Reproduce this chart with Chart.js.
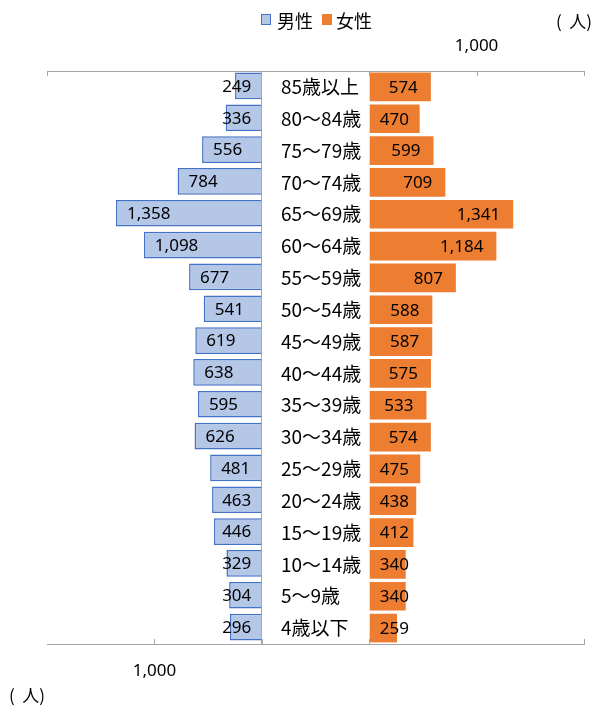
<!DOCTYPE html>
<html lang="ja">
<head>
<meta charset="utf-8">
<title>年齢別人口</title>
<script src="https://cdn.jsdelivr.net/npm/chart.js@4.4.1/dist/chart.umd.min.js"></script>
<style>
  body { margin: 0; background: #fff; }
  #wrap { position: relative; width: 603px; height: 705px; }
  #pyramid { position: absolute; left: 0; top: 0; }
  .lg-box { position: absolute; top: 14px; width: 8px; height: 9px; }
  .lg-box.male { left: 261px; background: #B4C7E7; border: 1px solid #4472C4; }
  .lg-box.female { left: 322px; width: 10px; height: 11px; background: #ED7D31; }
  .lg-text, .unit {
    position: absolute; color: #000; white-space: pre;
    font-family: "Noto Sans CJK JP", sans-serif;
  }
  .lg-text { top: 11px; font-size: 18px; line-height: 18px; }
  .unit { font-size: 17px; line-height: 17px; }
</style>
</head>
<body>
<div id="wrap">
  <canvas id="pyramid" width="603" height="705"></canvas>
  <span class="lg-box male"></span><span class="lg-text" style="left:277px">男性</span>
  <span class="lg-box female"></span><span class="lg-text" style="left:336px">女性</span>
  <span class="unit" style="left:556px; top:12px">(  人)</span>
  <span class="unit" style="left:9px; top:686px">(  人)</span>
</div>
<script>
// 年齢階級（上から）
const ageGroups = ['85歳以上', '80～84歳', '75～79歳', '70～74歳', '65～69歳', '60～64歳',
  '55～59歳', '50～54歳', '45～49歳', '40～44歳', '35～39歳', '30～34歳',
  '25～29歳', '20～24歳', '15～19歳', '10～14歳', '5～9歳', '4歳以下'];
const maleValues = [249, 336, 556, 784, 1358, 1098, 677, 541, 619, 638, 595, 626, 481, 463, 446, 329, 304, 296];
const femaleValues = [574, 470, 599, 709, 1341, 1184, 807, 588, 587, 575, 533, 574, 475, 438, 412, 340, 340, 259];

// 軸の範囲と目盛
const axisMin = -3000;
const axisMax = 2000;
const axisStep = 1000;
const labelledTicks = [1000];
const maleTickMarks = [1000, 0, -1000, -3000];
const femaleTickMarks = [-3000, 0, 1000, 2000];

const AXIS_GRAY = '#A6A6A6';

function fmt(v) {
  return String(v).replace(/\B(?=(\d{3})+(?!\d))/g, ',');
}

// 男性の棒を少し上にずらす
const maleShift = {
  id: 'maleShift',
  beforeDatasetDraw(chart, args) {
    if (args.index === 0) { chart.ctx.save(); chart.ctx.translate(0, -1); }
  },
  afterDatasetDraw(chart, args) {
    if (args.index === 0) chart.ctx.restore();
  }
};

// 棒の数値ラベル
const barLabels = {
  id: 'barLabels',
  afterDatasetsDraw(chart) {
    const ctx = chart.ctx;
    ctx.save();
    ctx.font = '17px "Noto Sans", sans-serif';
    ctx.fillStyle = '#000';
    ctx.textAlign = 'left';
    ctx.textBaseline = 'middle';
    chart.data.datasets.forEach((ds, i) => {
      chart.getDatasetMeta(i).data.forEach((bar, j) => {
        const text = fmt(ds.data[j]);
        const w = ctx.measureText(text).width;
        let x, y;
        if (i === 0) {
          x = Math.min(bar.x + 11, bar.base - 10 - w);
          y = bar.y;
        } else {
          x = Math.max(bar.x - 13 - w, bar.base + 10);
          y = bar.y + 1;
        }
        ctx.fillText(text, x, y);
      });
    });
    ctx.restore();
  }
};

// 内向きの目盛線
const tickMarks = {
  id: 'tickMarks',
  afterDraw(chart) {
    const ctx = chart.ctx;
    const area = chart.chartArea;
    ctx.save();
    ctx.strokeStyle = AXIS_GRAY;
    ctx.lineWidth = 1;
    ctx.beginPath();
    maleTickMarks.forEach(v => {
      const x = Math.round(chart.scales.xMale.getPixelForValue(v)) + 0.5;
      ctx.moveTo(x, area.bottom);
      ctx.lineTo(x, area.bottom - 5);
    });
    femaleTickMarks.forEach(v => {
      const x = Math.round(chart.scales.xFemale.getPixelForValue(v)) + 0.5;
      ctx.moveTo(x, area.top);
      ctx.lineTo(x, area.top + 5);
    });
    ctx.stroke();
    ctx.restore();
  }
};

const tickFont = { family: '"Noto Sans", sans-serif', size: 17 };
const tickCallback = v => labelledTicks.includes(v) ? fmt(v) : '';

new Chart(document.getElementById('pyramid'), {
  type: 'bar',
  data: {
    labels: ageGroups,
    datasets: [
      {
        label: '男性',
        data: maleValues,
        xAxisID: 'xMale',
        backgroundColor: '#B4C7E7',
        borderColor: '#4472C4',
        borderWidth: 1.5,
        barPercentage: 0.84,
        categoryPercentage: 1,
        grouped: false
      },
      {
        label: '女性',
        data: femaleValues,
        xAxisID: 'xFemale',
        backgroundColor: '#ED7D31',
        borderWidth: 0,
        barPercentage: 0.9,
        categoryPercentage: 1,
        grouped: false
      }
    ]
  },
  options: {
    indexAxis: 'y',
    responsive: false,
    animation: false,
    layout: { padding: { left: 47, right: 19, top: 0, bottom: 0 } },
    plugins: {
      legend: { display: false },
      tooltip: { enabled: false }
    },
    scales: {
      y: {
        type: 'category',
        position: 'left',
        offset: true,
        grid: { display: false },
        border: { display: false },
        ticks: {
          mirror: true,
          padding: 234,
          color: '#000',
          font: { family: '"Noto Sans CJK JP", sans-serif', size: 19 }
        },
        afterFit(scale) {
          scale.width = 0;
          scale.paddingTop = 0;
          scale.paddingBottom = 0;
        }
      },
      xMale: {
        type: 'linear',
        position: 'bottom',
        reverse: true,
        min: axisMin,
        max: axisMax,
        z: 1,
        grid: {
          drawTicks: false,
          color: c => (c.tick && c.tick.value === 0) ? AXIS_GRAY : 'rgba(0,0,0,0)'
        },
        border: { display: true, color: AXIS_GRAY, width: 1 },
        ticks: {
          stepSize: axisStep,
          padding: 17,
          color: '#000',
          font: tickFont,
          maxRotation: 0,
          autoSkip: false,
          callback: tickCallback
        },
        afterFit(scale) { scale.height = 61; }
      },
      xFemale: {
        type: 'linear',
        position: 'top',
        min: axisMin,
        max: axisMax,
        grid: { drawTicks: false, drawOnChartArea: false, color: 'rgba(0,0,0,0)' },
        border: { display: true, color: AXIS_GRAY, width: 1 },
        ticks: {
          stepSize: axisStep,
          padding: 15,
          color: '#000',
          font: tickFont,
          maxRotation: 0,
          autoSkip: false,
          callback: tickCallback
        },
        afterFit(scale) { scale.height = 71; }
      }
    }
  },
  plugins: [maleShift, barLabels, tickMarks]
});
</script>
</body>
</html>
